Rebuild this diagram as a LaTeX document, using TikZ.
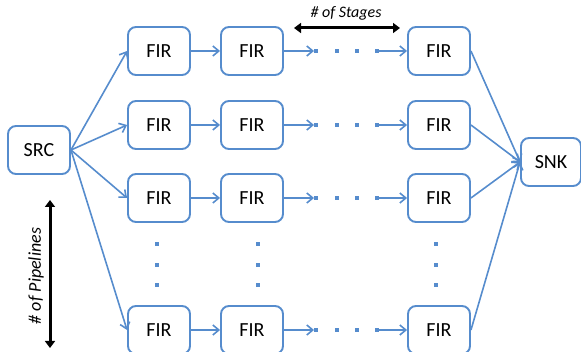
\documentclass[tikz,border=0pt]{standalone}
\usepackage{fontspec}
\setmainfont{Carlito}
\usetikzlibrary{arrows.meta}
\definecolor{fblue}{RGB}{86,140,205}
\begin{document}
\begin{tikzpicture}[x=1pt,y=-1pt,
  box/.style={draw=fblue,line width=1.9pt,rounded corners=8pt,fill=white,
    minimum width=62pt,minimum height=48pt,inner sep=0pt,font=\fontsize{20}{24}\selectfont},
  conn/.style={draw=fblue,line width=1.6pt,-{Straight Barb[length=6pt,width=10pt,line width=1.6pt]}},
  dotsq/.style={fill=fblue,draw=none,minimum size=4.5pt,inner sep=0pt},
  dim/.style={line width=3pt,{Triangle[length=7pt,width=10pt]}-{Triangle[length=7pt,width=10pt]}},
  lbl/.style={font=\fontsize{16}{19}\selectfont\itshape}]
\useasboundingbox (0,0) rectangle (581,352);
% source and sink
\node[box] (src) at (39,150) {SRC};
\node[box,minimum width=60pt] (snk) at (551,162) {SNK};
% rows
\foreach \r/\y in {1/51,2/125,3/198,4/330}{
  \node[box] (a\r) at (159,\y) {FIR};
  \node[box] (b\r) at (252,\y) {FIR};
  \node[box] (c\r) at (439,\y) {FIR};
  \coordinate (p\r) at (314,\y);
  \coordinate (q\r) at (377,\y);
  \node[dotsq] (d\r x1) at (316,\y) {};
  \node[dotsq] (d\r x2) at (337,\y) {};
  \node[dotsq] (d\r x3) at (357,\y) {};
  \node[dotsq] (d\r x4) at (377,\y) {};
  \draw[conn] (a\r) -- (b\r);
  \draw[conn] (b\r) -- (p\r);
  \draw[conn] (q\r) -- (c\r);
  \draw[conn] (src.east) -- (a\r.west);
  \draw[conn] (c\r.east) -- (snk.west);
}
% vertical dots
\foreach \x/\n in {157/a,258/b,436/c}{
  \node[dotsq] (v\n1) at (\x,244) {};
  \node[dotsq] (v\n2) at (\x,265) {};
  \node[dotsq] (v\n3) at (\x,285) {};
}
% dimension arrows
\coordinate (s1) at (294,28);
\coordinate (s2) at (400,28);
\draw[dim] (s1) -- (s2);
\node[lbl] (stages) at (346,13) {\# of Stages};
\coordinate (u1) at (50,200);
\coordinate (u2) at (50,348);
\draw[dim] (u1) -- (u2);
\node[lbl,rotate=90,font=\fontsize{18}{21}\selectfont\itshape] (pipes) at (36,276) {\# of Pipelines};
\end{tikzpicture}
\end{document}
